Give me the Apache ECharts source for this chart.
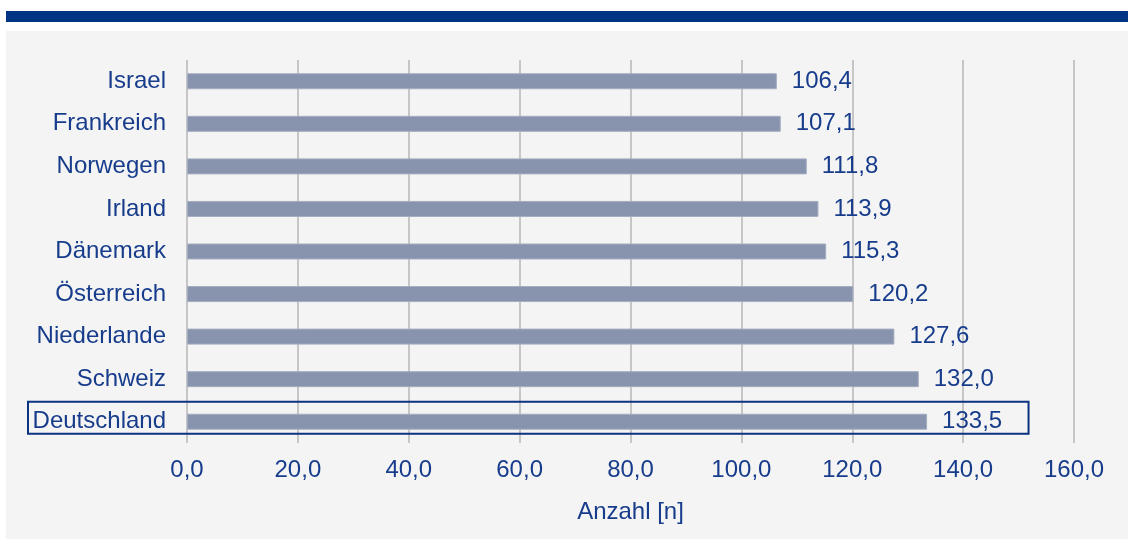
<!DOCTYPE html>
<html>
<head>
<meta charset="utf-8">
<script src="https://cdn.jsdelivr.net/npm/echarts@6/dist/echarts.min.js"></script>
<style>
  html, body { margin: 0; padding: 0; background: #fff; }
  #chart { width: 1128px; height: 539px; }
</style>
</head>
<body>
<div id="chart"></div>
<script>
// Länder (von oben nach unten) und Werte
const countries = ["Israel", "Frankreich", "Norwegen", "Irland", "Dänemark", "Österreich", "Niederlande", "Schweiz", "Deutschland"];
const values = [106.4, 107.1, 111.8, 113.9, 115.3, 120.2, 127.6, 132.0, 133.5];
const highlight = "Deutschland";

const blue = "#173c8c";
const fmt = v => v.toFixed(1).replace(".", ",");

const chart = echarts.init(document.getElementById("chart"));

chart.setOption({
  animation: false,
  textStyle: { fontFamily: "Liberation Sans, Arial, sans-serif" },
  graphic: [
    // grauer Hintergrund
    { type: "rect", id: "panel", z: -10, shape: { x: 6, y: 31, width: 1122, height: 508 }, style: { fill: "#f4f4f4" } },
    // blauer Balken oben
    { type: "rect", id: "topbar", z: -10, shape: { x: 6, y: 11, width: 1122, height: 11 }, style: { fill: "#003584" } }
  ],
  grid: { left: 187, right: 54, top: 60, bottom: 96, containLabel: false },
  xAxis: {
    type: "value",
    min: 0,
    max: 160,
    interval: 20,
    name: "Anzahl [n]",
    nameLocation: "middle",
    nameGap: 57,
    nameTextStyle: { color: blue, fontSize: 24 },
    axisLine: { show: false },
    axisTick: { show: false },
    axisLabel: { color: blue, fontSize: 24, margin: 15, formatter: fmt },
    splitLine: { show: true, lineStyle: { color: "#c6c6c6", width: 2 } }
  },
  yAxis: {
    type: "category",
    data: countries,
    inverse: true,
    axisLine: { show: false },
    axisTick: { show: false },
    axisLabel: { color: blue, fontSize: 24, margin: 21 }
  },
  series: [{
    type: "bar",
    data: values,
    barWidth: 16,
    itemStyle: { color: "#8893ad", borderColor: "#a4adc2", borderWidth: 1 },
    label: {
      show: true,
      position: "right",
      distance: 15,
      color: blue,
      fontSize: 24,
      formatter: p => fmt(p.value)
    }
  }]
});

// Rahmen um Deutschland
const idx = countries.indexOf(highlight);
const cy = chart.convertToPixel({ yAxisIndex: 0 }, idx);
const xr = chart.convertToPixel({ xAxisIndex: 0 }, 151.8);
chart.setOption({
  graphic: [{
    type: "rect",
    id: "box",
    z: 10,
    shape: { x: 28, y: cy - 20, width: xr - 28, height: 32 },
    style: { fill: "none", stroke: "#0a3380", lineWidth: 2 }
  }]
});
</script>
</body>
</html>
